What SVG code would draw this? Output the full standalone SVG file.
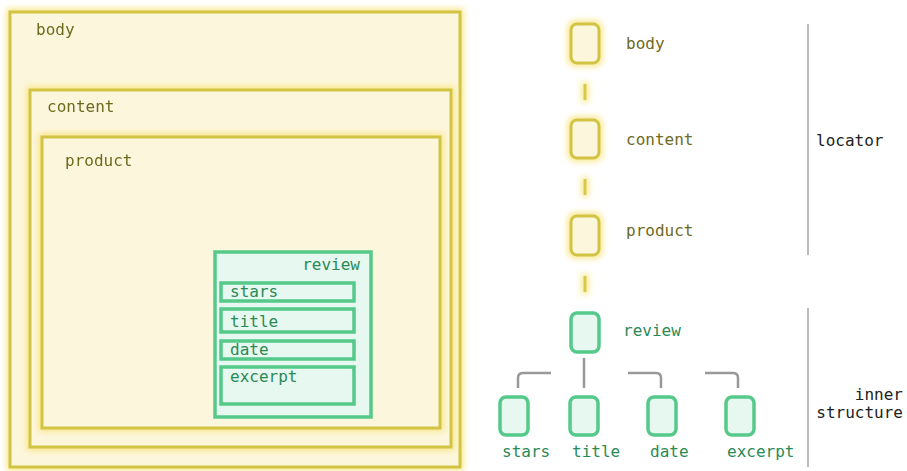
<svg xmlns="http://www.w3.org/2000/svg" width="907" height="471" viewBox="0 0 907 471">
<defs>
<filter id="glow" x="-20%" y="-20%" width="140%" height="140%">
<feMorphology in="SourceAlpha" operator="dilate" radius="2" result="d"/>
<feGaussianBlur in="d" stdDeviation="3" result="b"/>
<feFlood flood-color="#f7e47a" flood-opacity="0.9"/>
<feComposite in2="b" operator="in" result="g"/>
<feMerge><feMergeNode in="g"/><feMergeNode in="SourceGraphic"/></feMerge>
</filter>
<filter id="glowS" filterUnits="userSpaceOnUse" x="0" y="0" width="907" height="471">
<feMorphology in="SourceAlpha" operator="dilate" radius="2" result="d"/>
<feGaussianBlur in="d" stdDeviation="3" result="b"/>
<feFlood flood-color="#f7e47a" flood-opacity="0.9"/>
<feComposite in2="b" operator="in" result="g"/>
<feMerge><feMergeNode in="g"/><feMergeNode in="SourceGraphic"/></feMerge>
</filter>
</defs>
<style>
text{font-family:"DejaVu Sans Mono","Liberation Mono",monospace;font-size:16px}
.ybox{fill:#fcf6dd;stroke:#d2c443;stroke-width:3}
.gbox{fill:#e6f8ef;stroke:#55c98a;stroke-width:3.5}
.yt{fill:#6e6a1e}
.gt{fill:#2a8a55}
.dt{fill:#222}
.ydash{stroke:#d8c94a;stroke-width:3;fill:none}
.gray{stroke:#999;stroke-width:2.5;fill:none}
.sep{stroke:#bbb;stroke-width:2;fill:none}
</style>
<g id="box-body" filter="url(#glow)">
<rect class="ybox" x="10" y="12" width="450" height="455"/>
<text class="yt" x="36" y="35">body</text>
</g>
<g id="box-content" filter="url(#glow)">
<rect class="ybox" x="30" y="90" width="421" height="357"/>
<text class="yt" x="47" y="112">content</text>
</g>
<g id="box-product" filter="url(#glow)">
<rect class="ybox" x="42" y="137" width="398" height="291"/>
<text class="yt" x="65" y="166">product</text>
</g>
<g id="box-review">
<rect class="gbox" x="215" y="252" width="156" height="165"/>
<text class="gt" x="360" y="270" text-anchor="end">review</text>
</g>
<g id="box-stars"><rect class="gbox" x="221" y="283" width="133" height="18"/><text class="gt" x="230" y="297">stars</text></g>
<g id="box-title"><rect class="gbox" x="221" y="309" width="133" height="23"/><text class="gt" x="230" y="327">title</text></g>
<g id="box-date"><rect class="gbox" x="221" y="341" width="133" height="18"/><text class="gt" x="230" y="355">date</text></g>
<g id="box-excerpt"><rect class="gbox" x="221" y="367" width="133" height="37"/><text class="gt" x="230" y="382">excerpt</text></g>

<g id="connectors">
<g filter="url(#glowS)">
<line class="ydash" x1="585" y1="84" x2="585" y2="100"/>
<line class="ydash" x1="585" y1="179" x2="585" y2="195"/>
<line class="ydash" x1="585" y1="276" x2="585" y2="292"/>
</g>
<line class="gray" x1="584" y1="358" x2="584" y2="388"/>
<path class="gray" d="M551 373 H523 Q518 373 518 378 V388"/>
<path class="gray" d="M628 373 H656 Q661 373 661 378 V388"/>
<path class="gray" d="M705 373 H733 Q738 373 738 378 V388"/>
<line class="sep" x1="808" y1="24" x2="808" y2="255"/>
<line class="sep" x1="808" y1="308" x2="808" y2="467"/>
</g>

<g id="n-body" filter="url(#glowS)">
<rect class="ybox" x="571" y="24" width="28" height="39" rx="6"/>
</g>
<text class="yt" x="626" y="49">body</text>
<g id="n-content" filter="url(#glowS)">
<rect class="ybox" x="571" y="120" width="28" height="38" rx="6"/>
</g>
<text class="yt" x="626" y="145">content</text>
<g id="n-product" filter="url(#glowS)">
<rect class="ybox" x="571" y="216" width="28" height="39" rx="6"/>
</g>
<text class="yt" x="626" y="236">product</text>
<g id="n-review">
<rect class="gbox" x="571" y="313" width="28" height="39" rx="6"/>
<text class="gt" x="623" y="336">review</text>
</g>
<g id="n-stars"><rect class="gbox" x="500" y="397" width="28" height="38" rx="6"/><text class="gt" x="502" y="457">stars</text></g>
<g id="n-title"><rect class="gbox" x="570" y="397" width="28" height="38" rx="6"/><text class="gt" x="572" y="457">title</text></g>
<g id="n-date"><rect class="gbox" x="648" y="397" width="28" height="38" rx="6"/><text class="gt" x="650" y="457">date</text></g>
<g id="n-excerpt"><rect class="gbox" x="726" y="397" width="28" height="38" rx="6"/><text class="gt" x="727" y="457">excerpt</text></g>

<g id="label-locator"><text class="dt" x="816" y="146">locator</text></g>
<g id="label-inner"><text class="dt" x="903" y="400" text-anchor="end">inner</text><text class="dt" x="903" y="418" text-anchor="end">structure</text></g>
</svg>
